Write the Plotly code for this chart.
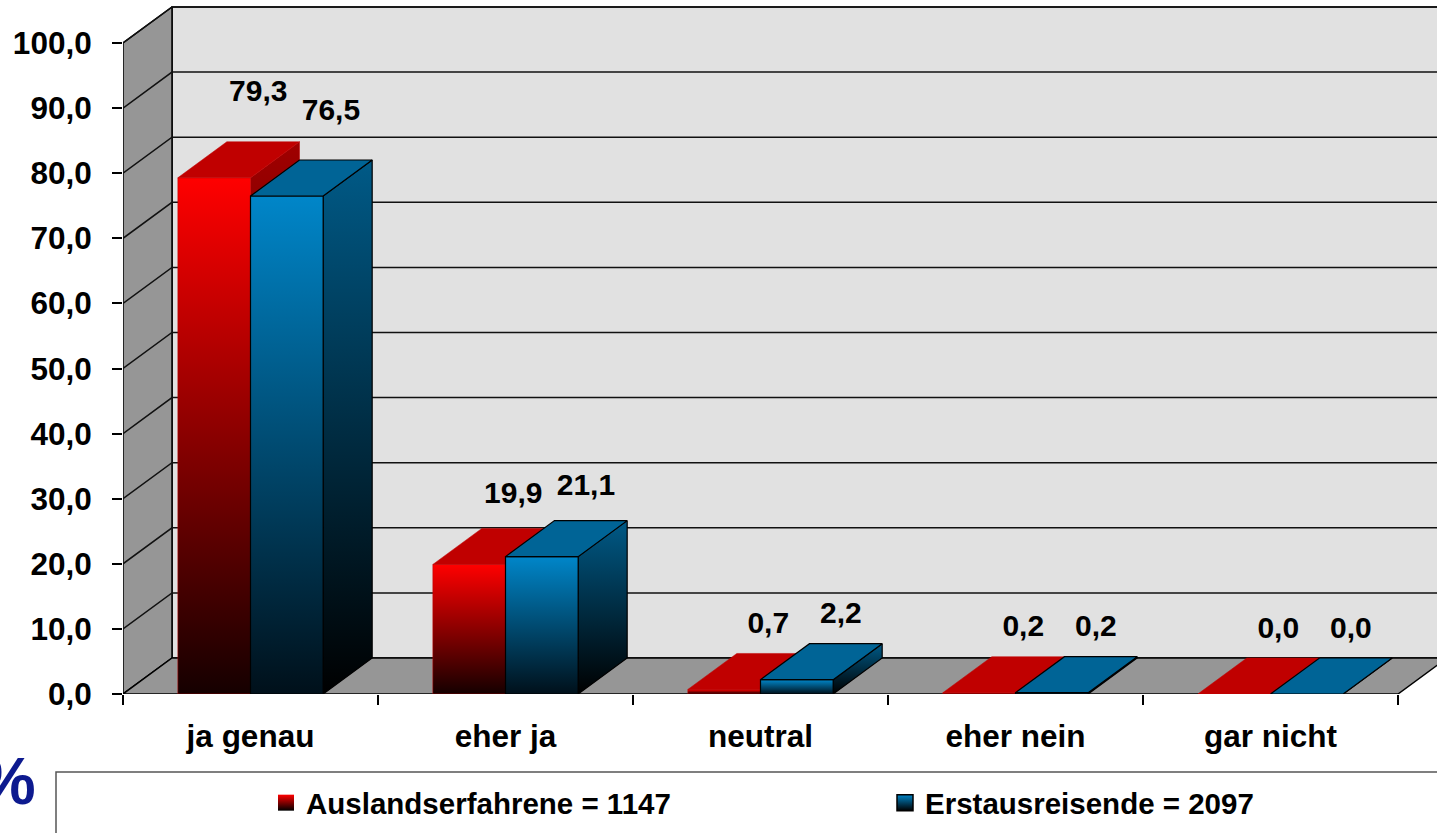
import plotly.graph_objects as go

# ---------------- data ----------------
categories = ["ja genau", "eher ja", "neutral", "eher nein", "gar nicht"]
series_names = ["Auslandserfahrene = 1147", "Erstausreisende = 2097"]
values_ausland = [79.3, 19.9, 0.7, 0.2, 0.0]
values_erst = [76.5, 21.1, 2.2, 0.2, 0.0]
y_ticks = [0, 10, 20, 30, 40, 50, 60, 70, 80, 90, 100]

# ---------------- styling / geometry ----------------
FONT = "Liberation Sans"
PX_X = 255.0           # pixels per category
PX_Y = 6.51            # pixels per value unit
DX = 49 / PX_X         # pseudo-3D depth offset in category units
DY = 36 / PX_Y         # pseudo-3D depth offset in value units
BAR_W = 0.285
N = len(categories)
PLOT_LEFT = 123
PLOT_TOP = 4
PLOT_BOTTOM = 694
PLOT_W = 1437 - PLOT_LEFT
PLOT_H = PLOT_BOTTOM - PLOT_TOP
X_MAX = PLOT_W / PX_X
Y_MAX = PLOT_H / PX_Y


def px_x(page_x):
    return (page_x - PLOT_LEFT) / PLOT_W


def px_y(page_y):
    return (PLOT_BOTTOM - page_y) / PLOT_H


series_styles = [
    dict(front=[[0, "#150000"], [1, "#ff0000"]], side=[[0, "#100000"], [1, "#a00000"]],
         top="#c00000", line="#c00000", lw=0.5),
    dict(front=[[0, "#00101a"], [1, "#0086c9"]], side=[[0, "#000000"], [1, "#005a87"]],
         top="#006496", line="#000000", lw=1.2),
]

fig = go.Figure()


def poly(xs, ys, fillcolor=None, grad=None, lo=0, hi=1, line_color="#000000", lw=1.0):
    kw = dict(x=list(xs) + [xs[0]], y=list(ys) + [ys[0]], mode="lines", fill="toself",
              line=dict(color=line_color, width=lw), hoverinfo="skip", showlegend=False)
    if grad is not None and hi - lo > 1e-6:
        kw["fillgradient"] = dict(type="vertical", colorscale=grad, start=lo, stop=hi)
        kw["fillcolor"] = grad[-1][1]
    else:
        kw["fillcolor"] = fillcolor if fillcolor else (grad[-1][1] if grad else "#000")
    fig.add_trace(go.Scatter(**kw))


# back wall
poly([DX, N + DX, N + DX, DX], [DY, DY, 100 + DY, 100 + DY], fillcolor="#e1e1e1", lw=1.5)
# left wall
poly([0, DX, DX, 0], [0, DY, 100 + DY, 100], fillcolor="#969696", lw=1.5)
# gridlines on walls
gx, gy = [], []
for v in y_ticks[1:]:
    gx += [0, DX, N + DX, None]
    gy += [v, v + DY, v + DY, None]
fig.add_trace(go.Scatter(x=gx, y=gy, mode="lines", line=dict(color="#111111", width=1.5),
                         hoverinfo="skip", showlegend=False))
# floor
poly([0, N, N + DX, DX], [0, 0, DY, DY], fillcolor="#969696", lw=1.5)

# bars
for i in range(N):
    for s, vals in enumerate([values_ausland, values_erst]):
        st = series_styles[s]
        v = vals[i]
        x0 = i + 0.5 - BAR_W + s * BAR_W
        x1 = x0 + BAR_W
        # side face
        poly([x1, x1 + DX, x1 + DX, x1], [0, DY, v + DY, v], grad=st["side"], lo=0, hi=v + DY,
             line_color=st["line"], lw=st["lw"])
        # front face
        if v > 0:
            poly([x0, x1, x1, x0], [0, 0, v, v], grad=st["front"], lo=0, hi=v,
                 line_color=st["line"], lw=st["lw"])
        # top face
        poly([x0, x1, x1 + DX, x0 + DX], [v, v, v + DY, v + DY], fillcolor=st["top"],
             line_color=st["line"], lw=st["lw"])

# data labels
for s, vals in enumerate([values_ausland, values_erst]):
    lx = [i + 0.5 - BAR_W / 2 + s * BAR_W + DX * 0.9 for i in range(N)]
    ly = [v + 9.8 + 0.04 * v for v in vals]
    fig.add_trace(go.Scatter(x=lx, y=ly, mode="text", customdata=vals,
                             texttemplate="%{customdata:.1f}", textposition="middle center",
                             textfont=dict(family=FONT, size=30, color="#000", weight="bold"),
                             cliponaxis=False, hoverinfo="skip", showlegend=False))

# legend entries
legend_colors = [("#ff0000", "#000000", "#ff0000", 0), ("#0086c9", "#000000", "#000000", 1.5)]
for name, (c, gc, lc, lw) in zip(series_names, legend_colors):
    fig.add_trace(go.Scatter(x=[None], y=[None], mode="markers", name=name,
                             marker=dict(symbol="square", size=16, color=c,
                                         gradient=dict(type="vertical", color=gc),
                                         line=dict(color=lc, width=lw))))

fig.update_layout(
    width=1437, height=833,
    margin=dict(l=PLOT_LEFT, r=0, t=PLOT_TOP, b=833 - PLOT_BOTTOM, autoexpand=False),
    paper_bgcolor="#ffffff", plot_bgcolor="#ffffff",
    separators=",.",
    font=dict(family=FONT, color="#000000"),
    showlegend=True,
    legend=dict(orientation="h", x=px_x(266), xanchor="left",
                y=px_y(803), yanchor="middle",
                entrywidth=574, entrywidthmode="pixels",
                font=dict(family=FONT, size=29.5, color="#000", weight="bold"),
                bgcolor="rgba(0,0,0,0)", borderwidth=0, itemclick=False),
    xaxis=dict(range=[0, X_MAX], showgrid=False, zeroline=False, showline=False,
               tickmode="array", tickvals=[i + 0.5 for i in range(N)], ticktext=categories,
               ticks="outside", ticklen=0, ticklabelstandoff=14,
               tickfont=dict(family=FONT, size=31.5, color="#000", weight="bold"),
               minor=dict(tickmode="array", tickvals=list(range(N + 1)), ticks="outside",
                          ticklen=10, tickwidth=1.5, tickcolor="#000", showgrid=False)),
    yaxis=dict(range=[0, Y_MAX], showgrid=False, zeroline=False, showline=False,
               tickmode="array", tickvals=y_ticks, tickformat=".1f",
               ticks="outside", ticklen=10, tickwidth=1.5, tickcolor="#000",
               ticklabelstandoff=14,
               tickfont=dict(family=FONT, size=31.5, color="#000", weight="bold")),
    shapes=[dict(type="rect", xref="paper", yref="paper",
                 x0=px_x(56), x1=1.05, y0=px_y(772), y1=-0.4,
                 line=dict(color="#555555", width=1.5), fillcolor="rgba(0,0,0,0)",
                 layer="below")],
    annotations=[
        dict(text="%", xref="paper", yref="paper", x=px_x(38), y=px_y(781),
             xanchor="right", yanchor="middle", showarrow=False,
             font=dict(family=FONT, size=66, color="#0d1a8f", weight="bold")),
    ],
)

fig.write_html("out.html", config={"displayModeBar": False},
               post_script="document.body.style.margin='0';")
